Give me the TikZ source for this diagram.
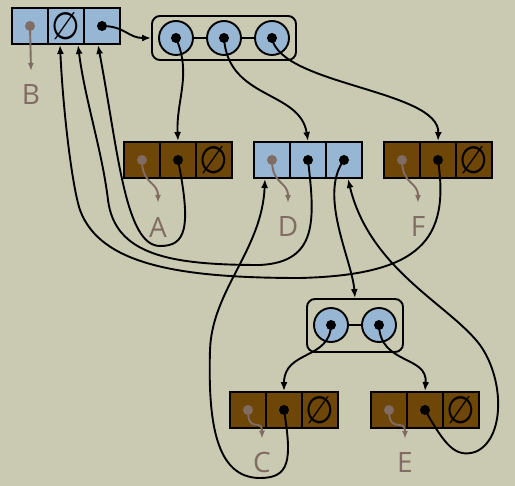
\documentclass[tikz,border=0pt]{standalone}
\usepackage{fontspec}
\usetikzlibrary{arrows.meta}
\newfontfamily\tagfont{Open Sans}
\newfontfamily\symfont{DejaVu Sans}
\definecolor{paper}{RGB}{202,202,178}
\definecolor{boxblue}{RGB}{150,182,212}
\definecolor{boxbrown}{RGB}{110,70,8}
\definecolor{ptrgray}{RGB}{128,108,98}
\newcommand{\nullmark}{\scalebox{1}[1.15]{\symfont\fontsize{33}{33}\selectfont ∅}}

\begin{document}
\begin{tikzpicture}[x=1pt,y=-1pt,line width=1.9pt,
  cellb/.style={draw,fill=boxblue,minimum size=36pt,inner sep=0pt},
  cellr/.style={draw,fill=boxbrown,minimum size=36pt,inner sep=0pt},
  slot/.style={draw,circle,fill=boxblue,minimum size=34pt,inner sep=0pt},
  tuple/.style={draw,rounded corners=8pt,inner sep=0pt},
  ref/.style={-{Latex[length=9pt,width=7pt]}},
  tagref/.style={draw=ptrgray,-{Latex[length=8pt,width=6pt]}},
  tag/.style={font=\tagfont\fontsize{28}{28}\selectfont,text=ptrgray,inner sep=0pt,outer sep=14pt}]
\fill[paper] (0,0) rectangle (515,486);

\node[cellb] (B1) at (30,26) {};
\node[cellb] (B2) at (66,26) {\nullmark};
\node[cellb] (B3) at (102,26) {};
\node[tuple,minimum width=144pt,minimum height=44pt] (T1) at (224,38) {};
\node[slot] (t11) at (176,38) {};
\node[slot] (t12) at (224,38) {};
\node[slot] (t13) at (272,38) {};
\draw (t11) -- (t12) -- (t13);

\node[cellr] (A1) at (142,160) {};
\node[cellr] (A2) at (178,160) {};
\node[cellr] (A3) at (214,160) {\nullmark};
\node[cellb] (D1) at (272,160) {};
\node[cellb] (D2) at (308,160) {};
\node[cellb] (D3) at (344,160) {};
\node[cellr] (F1) at (402,160) {};
\node[cellr] (F2) at (438,160) {};
\node[cellr] (F3) at (474,160) {\nullmark};

\node[tuple,minimum width=96pt,minimum height=53pt] (T2) at (355,325.5) {};
\node[slot] (t21) at (331,325) {};
\node[slot] (t22) at (379,325) {};
\draw (t21) -- (t22);

\node[cellr] (C1) at (248,410) {};
\node[cellr] (C2) at (284,410) {};
\node[cellr] (C3) at (320,410) {\nullmark};
\node[cellr] (E1) at (389,410) {};
\node[cellr] (E2) at (425,410) {};
\node[cellr] (E3) at (461,410) {\nullmark};

\node[tag] (lB) at (31,95) {B};
\node[tag] (lA) at (158,227) {A};
\node[tag] (lD) at (288,227) {D};
\node[tag] (lF) at (418,227) {F};
\node[tag] (lC) at (262,463) {C};
\node[tag] (lE) at (405,463) {E};

% names
\draw[tagref] (B1.center) -- (lB.north);
\draw[tagref] (A1.center) .. controls +(0,25) and +(0,-22) .. (lA.north);
\draw[tagref] (D1.center) .. controls +(0,25) and +(0,-22) .. (lD.north);
\draw[tagref] (F1.center) .. controls +(0,25) and +(0,-22) .. (lF.north);
\draw[tagref] (C1.center) .. controls +(0,25) and +(0,-22) .. (lC.north);
\draw[tagref] (E1.center) .. controls +(0,25) and +(0,-22) .. (lE.north);

% pointers
\draw[ref] (B3.center) .. controls (125,26) and (128,38) .. (T1.west);
\draw[ref] (t11.center) .. controls (192,75) and (176,100) .. (A2.north);
\draw[ref] (t12.center) .. controls (228,100) and (300,90) .. (D2.north);
\draw[ref] (t13.center) .. controls (280,85) and (440,90) .. (F2.north);
\draw[ref] (A2.center) .. controls (192,230) and (185,246) .. (160,246)
  .. controls (125,246) and (118,150) .. ([xshift=-4pt]B3.south);
\draw[ref] (D2.center) .. controls (315,220) and (318,262) .. (260,265)
  .. controls (170,265) and (115,255) .. (108,200)
  .. controls (102,150) and (85,100) .. ([xshift=12pt]B2.south);
\draw[ref] (F2.center) .. controls (450,240) and (420,275) .. (300,278)
  .. controls (180,278) and (100,265) .. (80,210)
  .. controls (72,186) and (63,110) .. ([xshift=-6pt]B2.south);
\draw[ref] (D3.center) .. controls (318,195) and (352,260) .. (T2.north);
\draw[ref] (t21.center) .. controls (330,360) and (284,350) .. (C2.north);
\draw[ref] (t22.center) .. controls (380,365) and (428,355) .. (E2.north);
\draw[ref] (C2.center) .. controls (292,460) and (290,478) .. (260,478)
  .. controls (215,478) and (208,420) .. (210,350)
  .. controls (212,290) and (262,250) .. ([xshift=-7pt]D1.south);
\draw[ref] (E2.center) .. controls (445,445) and (455,458) .. (475,452)
  .. controls (505,440) and (505,380) .. (480,345)
  .. controls (450,305) and (370,270) .. ([xshift=4pt]D3.south);

\foreach \p in {B3,t11,t12,t13,A2,D2,D3,F2,t21,t22,C2,E2}
  \fill (\p.center) circle (5pt);
\foreach \p in {B1,A1,D1,F1,C1,E1}
  \fill[ptrgray] (\p.center) circle (5pt);
\end{tikzpicture}
\end{document}
